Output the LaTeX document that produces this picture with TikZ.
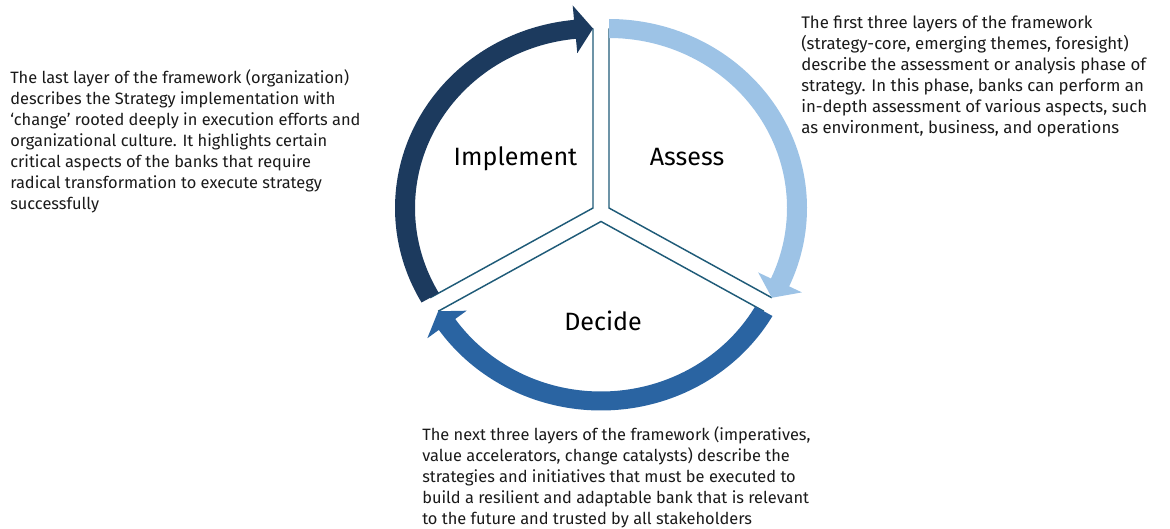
\documentclass[tikz,border=0pt]{standalone}
\usepackage{fontspec}
\setmainfont{Fira Sans}
\definecolor{navyarrow}{HTML}{1C3A5E}
\definecolor{midarrow}{HTML}{2A64A2}
\definecolor{lightarrow}{HTML}{9DC3E6}
\definecolor{spokecol}{HTML}{1F5B78}
\definecolor{textcol}{HTML}{1A1A1A}
\newcommand{\cyclearrow}[6]{%
  \fill[#6] plot[domain=#3:#4, samples=80] ({#1+198*cos(\x)},{#2+189*sin(\x)})
    -- ({#1+212*cos(#4)},{#2+203.5*sin(#4)})
    -- ({#1+188*cos(#5)},{#2+179.5*sin(#5)})
    -- ({#1+164*cos(#4)},{#2+155.5*sin(#4)})
    -- plot[domain=#4:#3, samples=80] ({#1+178*cos(\x)},{#2+170*sin(\x)})
    -- cycle;}
\newcommand{\firstline}{\rule{0pt}{10pt}}
\begin{document}
\begin{tikzpicture}[x=0.75pt,y=-0.75pt,
  spoke/.style={draw=spokecol, line width=1.1pt},
  phase/.style={font=\fontsize{18.8}{22}\selectfont, text=black, inner sep=0, anchor=base},
  bodytext/.style={font=\fontsize{12.3}{15.75}\selectfont, text=textcol, inner sep=0, anchor=north west, align=left}]
\useasboundingbox (0,0) rectangle (1170,528);
% centres of the three sectors
\coordinate (ci) at (593,208);
\coordinate (ca) at (609,208);
\coordinate (cd) at (601,221.5);
% spokes
\coordinate (i1) at (593,28.5);
\coordinate (i2) at ({593+188*cos(150)},{208+179.5*sin(150)});
\coordinate (a1) at (609,28.5);
\coordinate (a2) at ({609+188*cos(30)},{208+179.5*sin(30)});
\coordinate (d1) at ({601+188*cos(30)},{221.5+179.5*sin(30)});
\coordinate (d2) at ({601+188*cos(150)},{221.5+179.5*sin(150)});
\draw[spoke] (i1) -- (ci) -- (i2);
\draw[spoke] (a1) -- (ca) -- (a2);
\draw[spoke] (d1) -- (cd) -- (d2);
% arrows
\cyclearrow{593}{208}{150}{264.5}{270}{navyarrow}
\cyclearrow{609}{208}{270}{384.5}{390}{lightarrow}
\cyclearrow{601}{221.5}{30}{145}{150}{midarrow}
% phase labels
\node[phase] (impl) at (515.5,165) {Implement};
\node[phase] (assess) at (687,165) {Assess};
\node[phase] (decide) at (603,330) {Decide};
% descriptions
\node[bodytext] (ltext) at (10,69.4) {\firstline The last layer of the framework (organization)\\
describes the Strategy implementation with\\
‘change’ rooted deeply in execution efforts and\\
organizational culture. It highlights certain\\
critical aspects of the banks that require\\
radical transformation to execute strategy\\
successfully};
\node[bodytext, font=\fontsize{12.6}{15.75}\selectfont] (rtext) at (801,15) {\firstline The first three layers of the framework\\
(strategy-core, emerging themes, foresight)\\
describe the assessment or analysis phase of\\
strategy. In this phase, banks can perform an\\
in-depth assessment of various aspects, such\\
as environment, business, and operations};
\node[bodytext] (btext) at (422,426.7) {\firstline The next three layers of the framework (imperatives,\\
value accelerators, change catalysts) describe the\\
strategies and initiatives that must be executed to\\
build a resilient and adaptable bank that is relevant\\
to the future and trusted by all stakeholders};
\end{tikzpicture}
\end{document}
